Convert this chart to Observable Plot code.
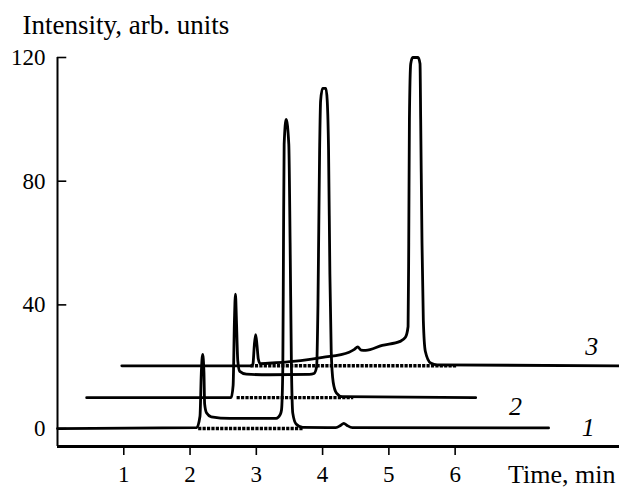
<!DOCTYPE html>
<html><head><meta charset="utf-8">
<script src="https://cdn.jsdelivr.net/npm/d3@7"></script>
<script src="https://cdn.jsdelivr.net/npm/@observablehq/plot@0.6"></script>
<style>
body{margin:0;background:#fff;}
#chart svg{display:block;}
</style></head><body><div id="chart"></div>
<script>
// Trace 1
const trace1Time = [0, 2.10, 2.15, 2.17, 2.19, 2.21, 2.22, 2.25, 2.32, 2.60, 3.30, 3.36, 3.38, 3.40, 3.41, 3.42, 3.45, 3.49, 3.51, 3.53, 3.55, 3.60, 3.70, 4.20, 4.27, 4.32, 4.37, 4.45, 7.41];
const trace1Intensity = [0, 0.3, 4, 18, 24, 18, 8, 5, 3.8, 3.3, 3.3, 4.5, 6, 20, 60, 92, 100, 92, 60, 20, 5, 1.5, 0.4, 0.3, 1.0, 1.7, 1.0, 0.3, 0.2];
// Trace 2
const trace2Time = [0.44, 2.62, 2.65, 2.67, 2.685, 2.70, 2.72, 2.75, 2.85, 3.20, 3.80, 3.87, 3.91, 3.93, 3.955, 3.97, 4.00, 4.05, 4.07, 4.09, 4.11, 4.13, 4.16, 4.21, 4.30, 6.31];
const trace2Intensity = [10, 10, 14, 35, 43.5, 35, 22, 18.5, 17.6, 17.4, 17.5, 17.8, 20, 40, 90, 106, 110, 110, 106, 90, 50, 25, 15, 11.5, 10.3, 10];
// Trace 3
const trace3Time = [0.97, 2.93, 2.95, 2.97, 2.99, 3.01, 3.03, 3.06, 3.30, 3.67, 4.00, 4.40, 4.48, 4.53, 4.58, 4.65, 4.90, 5.17, 5.25, 5.29, 5.30, 5.31, 5.33, 5.36, 5.44, 5.47, 5.48, 5.50, 5.52, 5.55, 5.63, 5.73, 8.48];
const trace3Intensity = [20.3, 20.3, 21, 27, 30.4, 27, 22.5, 21, 21.3, 22, 23, 24.7, 25.6, 26.4, 25.4, 25.3, 26.9, 28.2, 29.5, 33, 60, 100, 118, 120, 120, 118, 100, 60, 35, 25, 21.2, 20.6, 20.3];
// Dashed baselines under the peaks
const baselineStart = [2.13, 2.71, 2.92];
const baselineEnd = [3.72, 4.47, 6.04];
const baselineLevel = [0, 10, 20.3];
// Series labels
const seriesLabels = ["1", "2", "3"];
const labelTime = [8.01, 6.91, 8.06];
const labelIntensity = [0.3, 7.1, 26.5];
// Ticks
const xTicks = [1, 2, 3, 4, 5, 6];
const yTicks = [0, 40, 80, 120];
const xDomain = [0, 8.48];
const yDomain = [-5.8, 120];
const yTickLength = 0.14; // inward tick length, in minutes

const rows = (xs, ys, s) => xs.map((x, i) => ({time: x, intensity: ys[i], series: s}));
const traces = [
  ...rows(trace1Time, trace1Intensity, "1"),
  ...rows(trace2Time, trace2Intensity, "2"),
  ...rows(trace3Time, trace3Intensity, "3")
];
const baselines = baselineStart.map((s, i) => ({start: s, end: baselineEnd[i], level: baselineLevel[i]}));
const labels = seriesLabels.map((t, i) => ({text: t, time: labelTime[i], intensity: labelIntensity[i]}));

const ink = "#000";
const chart = Plot.plot({
  width: 619,
  height: 489,
  marginLeft: 57,
  marginRight: 0,
  marginTop: 57,
  marginBottom: 43,
  style: {fontFamily: "'Liberation Serif', 'Times New Roman', serif", fontSize: "23px", color: ink, background: "white"},
  x: {domain: xDomain},
  y: {domain: yDomain},
  marks: [
    Plot.ruleY(baselines, {x1: "start", x2: "end", y: "level", stroke: "#000", strokeWidth: 3.4, strokeDasharray: "3.2,1.2"}),
    Plot.line(traces, {x: "time", y: "intensity", z: "series", stroke: ink, strokeWidth: 2.8, curve: "monotone-x"}),
    Plot.ruleX([xDomain[0]], {y1: yDomain[0], y2: yTicks[yTicks.length - 1], stroke: ink, strokeWidth: 2}),
    Plot.ruleY([yDomain[0]], {stroke: ink, strokeWidth: 2.8}),
    Plot.ruleY(yTicks, {y: d => d, x1: xDomain[0], x2: xDomain[0] + yTickLength, stroke: ink, strokeWidth: 1.6}),
    Plot.axisX({ticks: xTicks, tickSize: 9, tickPadding: 10, fontSize: 23, label: null, strokeWidth: 1.6}),
    Plot.axisY({ticks: yTicks, tickSize: 0, tickPadding: 12, fontSize: 23, label: null}),
    Plot.text(labels, {x: "time", y: "intensity", text: "text", fontSize: 26, fontStyle: "italic", fill: ink}),
    Plot.text(["Intensity, arb. units"], {frameAnchor: "top-left", dx: -35, dy: -32, textAnchor: "start", lineAnchor: "middle", fontSize: 27, fill: ink}),
    Plot.text(["Time, min"], {frameAnchor: "bottom-right", dx: -4, dy: 28, textAnchor: "end", lineAnchor: "middle", fontSize: 26, fill: ink})
  ]
});
document.getElementById("chart").appendChild(chart);
</script></body></html>
